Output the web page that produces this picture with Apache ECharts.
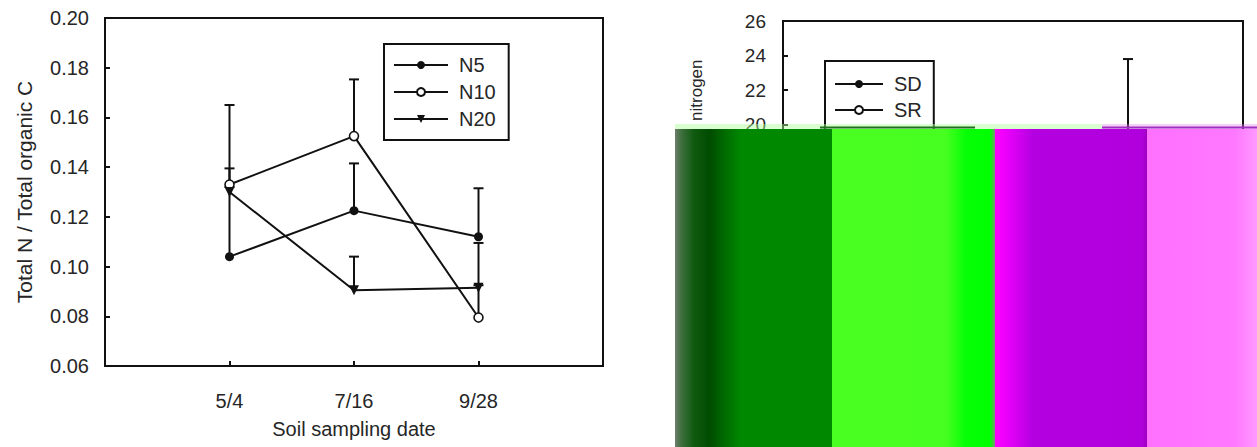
<!DOCTYPE html>
<html><head><meta charset="utf-8">
<script src="https://cdn.jsdelivr.net/npm/echarts@6/dist/echarts.min.js"></script>
<style>html,body{margin:0;padding:0;background:#fff}#c{width:1257px;height:447px}</style>
</head><body><div id="c"></div>
<script>
// ---- left panel data ----
const dates = ['5/4', '7/16', '9/28'];
const datePos = [1, 2, 3];
const n5 = [0.104, 0.1225, 0.112];
const n5Err = [0.028, 0.019, 0.0195];
const n10 = [0.133, 0.1525, 0.0795];
const n10Err = [0.032, 0.0228, 0.013];
const n20 = [0.130, 0.0905, 0.0915];
const n20Err = [0.0095, 0.0135, 0.018];
const leftSeriesNames = ['N5', 'N10', 'N20'];
// ---- right panel data (mostly hidden under the colour band) ----
const rightNames = ['SD', 'SR'];
const sdPos = [3];
const sd = [18.6];
const sdErr = [5.2];
const srPos = [];
const sr = [];
const srErr = [];

const INK = '#111';
const TXT = '#262626';
const FONT = '"Liberation Sans", Arial, sans-serif';

function pts(xs, ys) { return xs.map((x, i) => [x, ys[i]]); }
function errSeries(xs, ys, es, gi) {
  return {
    type: 'custom', xAxisIndex: gi, yAxisIndex: gi, silent: true, z: 1,
    data: xs.map((x, i) => [x, ys[i], ys[i] + es[i]]),
    encode: { x: 0, y: [1, 2] },
    renderItem(params, api) {
      const x = api.value(0);
      const lo = api.coord([x, api.value(1)]);
      const hi = api.coord([x, api.value(2)]);
      const hw = 5;
      return { type: 'group', children: [
        { type: 'line', shape: { x1: lo[0], y1: lo[1], x2: hi[0], y2: hi[1] }, style: { stroke: INK, lineWidth: 2 } },
        { type: 'line', shape: { x1: hi[0] - hw, y1: hi[1], x2: hi[0] + hw, y2: hi[1] }, style: { stroke: INK, lineWidth: 2 } }
      ] };
    }
  };
}
function lineSeries(name, xs, ys, gi, sym) {
  return Object.assign({
    name, type: 'line', xAxisIndex: gi, yAxisIndex: gi, data: pts(xs, ys), z: 3,
    lineStyle: { color: INK, width: 2 }, symbolSize: 8, itemStyle: { color: INK }
  }, sym);
}
const filled = { symbol: 'circle', symbolSize: 9, itemStyle: { color: INK } };
const open = { symbol: 'circle', symbolSize: 9, itemStyle: { color: '#fff', borderColor: INK, borderWidth: 1.6 } };
const tri = { symbol: 'triangle', symbolRotate: 180, symbolSize: 10, itemStyle: { color: INK } };

function grad(stops) {
  return new echarts.graphic.LinearGradient(0, 0, 1, 0, stops.map(s => ({ offset: s[0], color: s[1] })));
}

const chart = echarts.init(document.getElementById('c'), null, { renderer: 'svg' });
chart.setOption({
  animation: false,
  textStyle: { fontFamily: FONT },
  grid: [
    { left: 105, right: 654, top: 18, bottom: 81, show: true, borderColor: INK, borderWidth: 2 },
    { left: 783, right: 14, top: 21, bottom: 447 - 159.4, show: true, borderColor: INK, borderWidth: 2 }
  ],
  legend: [
    {
      data: leftSeriesNames, orient: 'vertical', left: 384, top: 44,
      padding: [11, 13, 11, 9], itemGap: 7, itemWidth: 54, itemHeight: 10,
      borderColor: INK, borderWidth: 2, borderRadius: 0,
      textStyle: { fontSize: 20, color: TXT, fontFamily: FONT, padding: [0, 0, 0, 6] },
      lineStyle: { color: INK, width: 2 }
    },
    {
      data: rightNames, orient: 'vertical', left: 825, top: 61,
      padding: [13, 12, 30, 9], itemGap: 6, itemWidth: 48, itemHeight: 10,
      borderColor: INK, borderWidth: 2, borderRadius: 0,
      textStyle: { fontSize: 20, color: TXT, fontFamily: FONT, padding: [0, 0, 0, 6] },
      lineStyle: { color: INK, width: 2 }
    }
  ],
  xAxis: [
    {
      type: 'value', gridIndex: 0, min: 0, max: 4, interval: 1,
      axisLine: { show: true, lineStyle: { color: INK, width: 2 } },
      axisTick: { show: true, inside: true, length: 5, lineStyle: { color: INK, width: 2 } },
      axisLabel: { formatter: v => { const i = datePos.indexOf(v); return i >= 0 ? dates[i] : ''; }, fontSize: 20, color: TXT, margin: 25 },
      splitLine: { show: false },
      name: 'Soil sampling date', nameLocation: 'middle', nameGap: 53,
      nameTextStyle: { fontSize: 20, color: TXT }
    },
    {
      type: 'value', gridIndex: 1, min: 0, max: 4, interval: 1,
      axisLine: { show: false }, axisTick: { show: false }, axisLabel: { show: false }, splitLine: { show: false }
    }
  ],
  yAxis: [
    {
      type: 'value', gridIndex: 0, min: 0.06, max: 0.20, interval: 0.02,
      axisLine: { show: true, lineStyle: { color: INK, width: 2 } },
      axisTick: { show: true, inside: true, length: 5, lineStyle: { color: INK, width: 2 } },
      axisLabel: { formatter: v => v.toFixed(2), fontSize: 20, color: TXT, margin: 16 },
      splitLine: { show: false },
      name: 'Total N / Total organic C', nameLocation: 'middle', nameGap: 70, nameRotate: 90,
      nameTextStyle: { fontSize: 21, color: TXT }
    },
    {
      type: 'value', gridIndex: 1, min: 18, max: 26, interval: 2,
      axisLine: { show: true, lineStyle: { color: INK, width: 2 } },
      axisTick: { show: true, inside: true, length: 5, lineStyle: { color: INK, width: 2 } },
      axisLabel: { fontSize: 19, color: TXT, margin: 17 },
      splitLine: { show: false },
      name: 'nitrogen', nameLocation: 'middle', nameGap: 78, nameRotate: 90,
      nameTextStyle: { fontSize: 17, color: TXT }
    }
  ],
  series: [
    errSeries(datePos, n5, n5Err, 0),
    errSeries(datePos, n10, n10Err, 0),
    errSeries(datePos, n20, n20Err, 0),
    lineSeries('N5', datePos, n5, 0, filled),
    lineSeries('N10', datePos, n10, 0, open),
    lineSeries('N20', datePos, n20, 0, tri),
    errSeries(sdPos, sd, sdErr, 1),
    errSeries(srPos, sr, srErr, 1),
    lineSeries('SD', sdPos, sd, 1, filled),
    lineSeries('SR', srPos, sr, 1, open)
  ],
  graphic: { elements: [
    { type: 'rect', z: 100, silent: true, shape: { x: 675, y: 124, width: 427, height: 6 }, style: { fill: 'rgba(170,255,150,0.45)' } },
    { type: 'rect', z: 100, silent: true, shape: { x: 1102, y: 124, width: 155, height: 6 }, style: { fill: 'rgba(220,120,235,0.35)' } },
    { type: 'rect', z: 101, silent: true, shape: { x: 820, y: 126.5, width: 155, height: 2 }, style: { fill: '#1f6f1f' } },
    { type: 'rect', z: 101, silent: true, shape: { x: 1102, y: 126.5, width: 155, height: 2 }, style: { fill: '#a030c0' } },
    { type: 'rect', z: 102, silent: true, shape: { x: 675, y: 129, width: 157, height: 318 },
      style: { fill: grad([[0, '#6d7d6d'], [0.04, '#3f6f3f'], [0.12, '#0f5a0f'], [0.22, '#004c00'], [0.32, '#006c00'], [0.42, '#008800'], [1, '#008800']]) } },
    { type: 'rect', z: 102, silent: true, shape: { x: 832, y: 129, width: 163, height: 318 },
      style: { fill: grad([[0, '#4aff22'], [0.7, '#46ff20'], [0.82, '#06ff06'], [0.97, '#00ff00'], [1, '#70a070']]) } },
    { type: 'rect', z: 102, silent: true, shape: { x: 995, y: 129, width: 152, height: 318 },
      style: { fill: grad([[0, '#ff00ff'], [0.06, '#f000ff'], [0.25, '#b400e0'], [0.97, '#b000dc'], [1, '#a000c0']]) } },
    { type: 'rect', z: 102, silent: true, shape: { x: 1147, y: 129, width: 110, height: 318 },
      style: { fill: grad([[0, '#ff70ff'], [0.8, '#ff78ff'], [1, '#ff99ff']]) } }
  ] }
});
</script></body></html>
